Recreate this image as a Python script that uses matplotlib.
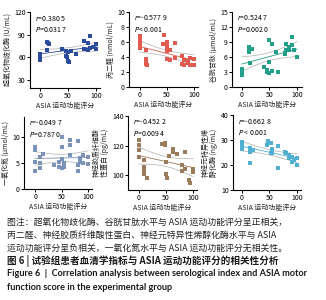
# -*- coding: utf-8 -*-
"""
Correlation of serological index with ASIA motor score (Figure 6 style).
Six small scatter panels with a linear fit and 95% CI band, plus caption.
"""

import numpy as np
import matplotlib
matplotlib.use('Agg')
import matplotlib.pyplot as plt

plt.rcParams['font.family'] = ['Noto Sans CJK SC', 'DejaVu Sans']

# ---- data ----
xlabel = 'ASIA 运动功能评分'

# panel 1: superoxide dismutase
sod_x = [0, 0, 0, 0, 12, 14, 16, 12, 40, 46, 48, 50, 52, 47, 50, 55, 65, 78, 78, 85, 85, 90, 90, 95, 100, 100]
sod_y = [65, 62, 59, 56.5, 80, 79, 78, 70, 70.5, 62, 60, 55.5, 54, 69, 67.5, 69, 65, 81, 71, 78.5, 70, 88, 72, 74, 77.5, 70.5]

# panel 2: malondialdehyde
mda_x = [0, 0, 0, 0, 0, 12, 12, 12, 12, 14, 42, 45, 50, 50, 50, 50, 50, 55, 55, 65, 65, 78, 78, 82, 82, 88, 88, 92, 92, 100, 100]
mda_y = [6.8, 6.25, 6.0, 5.8, 5.2, 4.9, 3.8, 3.6, 3.1, 2.9, 5.8, 6.9, 6.0, 5.8, 5.4, 4.8, 3.7, 4.9, 3.6, 5.9, 3.9, 4.2, 3.1, 3.6, 3.0, 3.5, 3.2, 3.9, 2.9, 3.8, 2.9]

# panel 3: glutathione
gsh_x = [0, 0, 0, 0, 12, 12, 13, 12, 14, 18, 40, 45, 46, 50, 50, 50, 55, 55, 62, 65, 78, 78, 80, 80, 85, 85, 90, 90, 95, 100]
gsh_y = [3.7, 3.2, 2.8, 2.5, 8.0, 7.7, 7.4, 7.0, 4.8, 7.7, 4.0, 3.5, 3.1, 9.5, 5.0, 2.8, 8.7, 3.3, 7.0, 3.0, 6.8, 6.6, 8.7, 7.4, 8.0, 7.5, 10.0, 8.4, 7.4, 6.0]

# panel 4: nitric oxide
no_x = [0, 0, 0, 0, 10, 10, 10, 15, 35, 45, 45, 50, 50, 50, 50, 55, 55, 65, 65, 65, 80, 80, 80, 85, 85, 90, 90, 100, 100]
no_y = [8.1, 7.5, 5.25, 3.5, 6.2, 4.9, 4.0, 6.8, 4.6, 5.25, 4.3, 10.0, 8.1, 5.7, 4.0, 4.9, 4.3, 9.4, 8.4, 6.5, 9.2, 4.6, 3.4, 5.9, 5.25, 6.5, 4.9, 6.2, 4.7]

# panel 5: glial fibrillary acidic protein
gfap_x = [0, 0, 0, 0, 10, 10, 10, 10, 15, 42, 48, 48, 50, 50, 52, 55, 62, 62, 70, 80, 80, 85, 85, 92, 94, 100, 100]
gfap_y = [123.6, 120.2, 116.9, 112.4, 110.1, 105.6, 103.4, 101.1, 97.8, 121.3, 121.8, 120.2, 109, 100.7, 98.4, 112.8, 115.7, 118, 114.6, 103, 106.7, 104.5, 115.7, 97, 94.4, 104.5, 102.2]

# panel 6: neuron specific enolase
nse_x = [0, 0, 0, 0, 15, 15, 14, 20, 45, 48, 52, 52, 55, 55, 65, 65, 78, 80, 85, 85, 90, 90, 95, 100, 100]
nse_y = [29.3, 28.7, 27.3, 26.3, 26.7, 25.3, 20.7, 26.0, 28.0, 29.7, 28.7, 24.7, 26.3, 24.7, 27.6, 18.7, 25.3, 24.7, 24.0, 22.7, 23.3, 21.0, 22.0, 22.7, 20.0]

ylabels = ['超氧化物歧化酶 (U/mL)', '丙二醛 (nmol/mL)', '谷胱甘肽 (μmol/mL)',
           '一氧化氮 (μmol/mL)', '神经胶质纤维酸\n性蛋白 (pg/mL)', '神经元特异性烯\n醇化酶 (ng/mL)']
stats = [('0.380 5', '=0.031 7'), ('-0.577 9', '< 0.001'), ('0.524 7', '=0.002 0'),
         ('-0.049 7', '=0.787 0'), ('-0.452 2', '=0.009 4'), ('-0.662 8', ' < 0.001')]
yticks = [[30, 60, 90, 120], [0, 2, 4, 6, 8, 10], [0, 3, 6, 9, 12, 15],
          [0, 5, 10], [100, 120, 140], [10, 20, 30, 40]]

caption = ['图注：超氧化物歧化酶、谷胱甘肽水平与 ASIA 运动功能评分呈正相关，',
           '丙二醛、神经胶质纤维酸性蛋白、神经元特异性烯醇化酶水平与 ASIA',
           '运动功能评分呈负相关，一氧化氮水平与 ASIA 运动功能评分无相关性。']
title_cn = '图 6 | 试验组患者血清学指标与 ASIA 运动功能评分的相关性分析'
title_en = ['Figure 6  |  Correlation analysis between serological index and ASIA motor',
            'function score in the experimental group']

# ---- layout (pixel boxes: left, top, right, bottom) ----
W, H = 326, 300
boxes = [(30, 12, 100, 88), (129, 12, 198, 87), (232, 12, 302, 87),
         (24, 117, 92, 189), (128, 116, 197, 190), (233, 115, 301, 190)]
xlims = [(-18, 107), (-20, 107), (-18, 109), (-21, 107), (-20, 107), (-16, 107)]
ylims = [(19.4, 120), (0, 10), (0, 15), (0, 13.8), (90, 140), (10, 40)]
colors = ['#2b4c9a', '#e05a50', '#22a08a', '#7d92b8', '#9a7b5c', '#4fb0d0']
xs = [sod_x, mda_x, gsh_x, no_x, gfap_x, nse_x]
ys = [sod_y, mda_y, gsh_y, no_y, gfap_y, nse_y]

fig = plt.figure(figsize=(W / 100, H / 100), dpi=100)

for i in range(6):
    l, t, r, b = boxes[i]
    ax = fig.add_axes([l / W, 1 - b / H, (r - l) / W, (b - t) / H])
    x = np.array(xs[i], float)
    y = np.array(ys[i], float)

    # linear fit with 95% confidence band
    k, c = np.polyfit(x, y, 1)
    xx = np.linspace(x.min(), x.max(), 50)
    yy = k * xx + c
    n = len(x)
    s = np.sqrt(np.sum((y - (k * x + c)) ** 2) / (n - 2))
    se = s * np.sqrt(1 / n + (xx - x.mean()) ** 2 / np.sum((x - x.mean()) ** 2))
    ax.plot(xx, yy + 2.05 * se, color='#b0b0b0', lw=0.5)
    ax.plot(xx, yy - 2.05 * se, color='#b0b0b0', lw=0.5)
    ax.plot(xx, yy, color=colors[i], lw=0.6)
    ax.scatter(x, y, s=6, color=colors[i], marker='s', linewidths=0, zorder=3)

    ax.set_xlim(*xlims[i])
    ax.set_ylim(*ylims[i])
    ax.set_xticks([0, 50, 100])
    ax.set_yticks(yticks[i])
    for side in ['top', 'right']:
        ax.spines[side].set_visible(False)
    for side in ['left', 'bottom']:
        ax.spines[side].set_linewidth(0.8)
    ax.tick_params(labelsize=5, width=0.7, length=2, pad=1)
    ax.set_xlabel(xlabel, fontsize=5, labelpad=1.5, color='#222222')
    ax.set_ylabel(ylabels[i], fontsize=5, labelpad=2, color='#222222', linespacing=1.1)

    rv, pv = stats[i]
    ax.text(0.07, 0.98, '$r$=' + rv + '\n$P$' + pv, transform=ax.transAxes,
            fontsize=5, va='top', ha='left', linespacing=1.3)

# ---- caption ----
for j, line in enumerate(caption):
    fig.text(7 / W, 1 - (222 + 13 * j) / H, line, fontsize=6.4, va='center', ha='left', color='#222222')
fig.text(7 / W, 1 - 261 / H, title_cn, fontsize=6.9, va='center', ha='left', fontweight='bold', color='#1a1a1a')
fig.text(7 / W, 1 - 274 / H, title_en[0], fontsize=6.6, va='center', ha='left', fontweight='bold',
         color='#1a1a1a', family=['Lato', 'DejaVu Sans'])
fig.text(7 / W, 1 - 287 / H, title_en[1], fontsize=6.6, va='center', ha='left', fontweight='bold',
         color='#1a1a1a', family=['Lato', 'DejaVu Sans'])

plt.savefig('out.png', dpi=100)
